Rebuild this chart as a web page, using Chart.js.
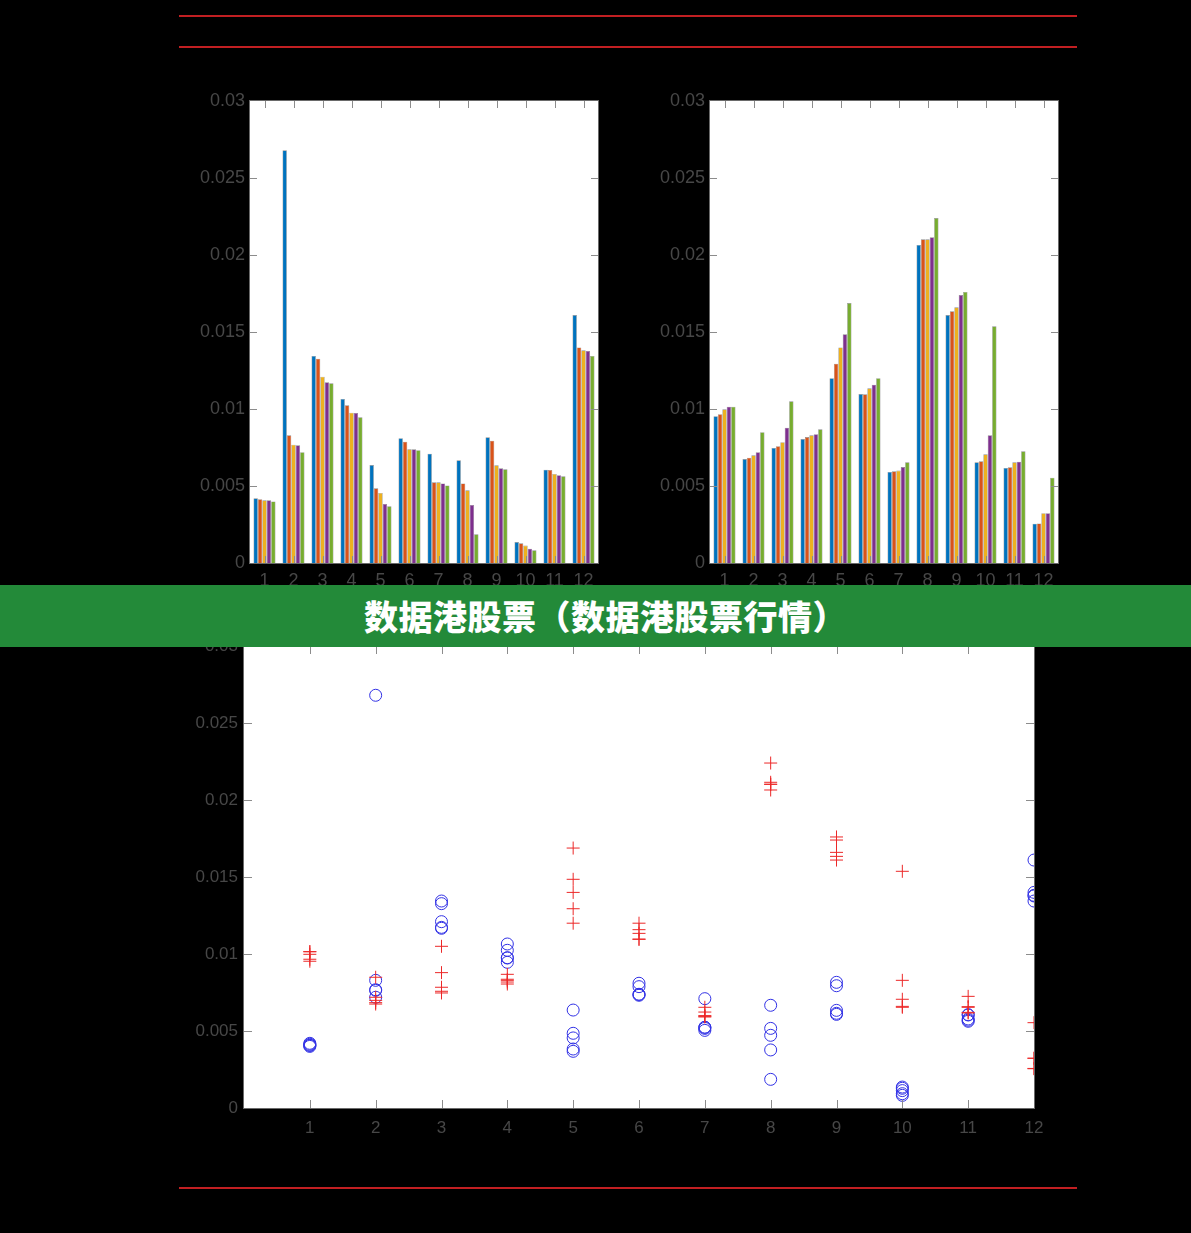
<!DOCTYPE html>
<html>
<head>
<meta charset="utf-8">
<script src="https://cdn.jsdelivr.net/npm/chart.js@4/dist/chart.umd.min.js"></script>
<style>
  html, body { margin:0; padding:0; background:#000; width:1191px; height:1233px; overflow:hidden; }
  canvas { position:absolute; left:0; top:0; }
  .rule { position:absolute; left:179px; width:898px; height:2px; background:#c21f22; }
  #banner { position:absolute; left:0; top:585px; width:1191px; height:62px; background:#238a39;
            color:#fff; font-family:"Noto Sans CJK SC", sans-serif; font-weight:900; font-size:34px;
            line-height:62px; text-align:center; padding-left:20px; box-sizing:border-box; letter-spacing:0.5px; }
</style>
</head>
<body>
<canvas id="c1" width="1191" height="1233"></canvas>
<canvas id="c2" width="1191" height="1233"></canvas>
<canvas id="c3" width="1191" height="1233"></canvas>
<div class="rule" style="top:15px"></div>
<div class="rule" style="top:46px"></div>
<div class="rule" style="top:1187px"></div>
<div id="banner">数据港股票（数据港股票行情）</div>
<script>
// ---- data ----
const categories = ['1','2','3','4','5','6','7','8','9','10','11','12'];
const yTickLabels = ['0','0.005','0.01','0.015','0.02','0.025','0.03'];
const scatterXTickLabels = ['','1','2','3','4','5','6','7','8','9','10','11','12'];

const leftS1 = [0.0042, 0.0268, 0.01344, 0.01065, 0.00636, 0.0081, 0.0071, 0.00667, 0.00816, 0.00136, 0.00606, 0.0161];
const leftS2 = [0.00414, 0.00829, 0.01327, 0.01024, 0.00485, 0.00788, 0.00524, 0.00517, 0.00794, 0.00128, 0.00604, 0.0140];
const leftS3 = [0.00407, 0.00768, 0.0121, 0.00976, 0.00455, 0.00738, 0.00524, 0.00472, 0.00634, 0.00113, 0.00578, 0.01381];
const leftS4 = [0.00407, 0.00764, 0.01173, 0.00974, 0.00383, 0.00738, 0.00517, 0.00377, 0.00615, 0.00093, 0.0057, 0.01377];
const leftS5 = [0.0040, 0.00719, 0.01167, 0.00946, 0.00368, 0.00732, 0.00504, 0.00186, 0.00608, 0.00082, 0.00563, 0.01344];

const rightS1 = [0.00953, 0.00675, 0.00747, 0.00805, 0.0120, 0.01097, 0.00591, 0.02065, 0.0161, 0.00654, 0.00617, 0.00255];
const rightS2 = [0.00966, 0.00684, 0.00758, 0.00818, 0.01294, 0.01095, 0.00595, 0.02102, 0.01634, 0.0066, 0.00621, 0.00257];
const rightS3 = [0.00998, 0.00699, 0.00784, 0.00829, 0.0140, 0.01134, 0.0060, 0.02102, 0.0166, 0.00706, 0.00654, 0.00323];
const rightS4 = [0.01015, 0.00719, 0.00879, 0.00836, 0.01485, 0.01158, 0.00623, 0.02115, 0.0174, 0.00829, 0.00658, 0.00323];
const rightS5 = [0.01015, 0.00849, 0.0105, 0.00868, 0.01688, 0.0120, 0.00654, 0.0224, 0.0176, 0.01537, 0.00725, 0.00554];

const seriesColors = ['#0072BD', '#D95319', '#EDB120', '#7E2F8E', '#77AC30'];

// ---- setup ----
Chart.defaults.font.family = '"Liberation Sans", Arial, sans-serif';
Chart.defaults.color = '#474747';
Chart.defaults.animation = false;

const W = 1191, H = 1233;

const framePlugin = {
  id: 'frame',
  beforeDraw(chart) {
    const { ctx, chartArea: a } = chart;
    ctx.save();
    ctx.fillStyle = '#ffffff';
    ctx.fillRect(a.left, a.top, a.right - a.left, a.bottom - a.top);
    ctx.restore();
  },
  afterDraw(chart, args, opts) {
    const { ctx, chartArea: a } = chart;
    const len = opts.tickLength || 7;
    const xs = chart.scales.x, ys = chart.scales.y;
    ctx.save();
    ctx.lineWidth = 1;
    ctx.strokeStyle = '#8c8c8c';
    ctx.beginPath();
    xs.ticks.forEach((t, i) => {
      const px = Math.round(xs.getPixelForTick(i)) + 0.5;
      if (px <= a.left + 1 || px >= a.right - 1) return;
      ctx.moveTo(px, a.bottom); ctx.lineTo(px, a.bottom - len);
      ctx.moveTo(px, a.top); ctx.lineTo(px, a.top + len);
    });
    ys.ticks.forEach((t, i) => {
      const py = Math.round(ys.getPixelForTick(i)) + 0.5;
      if (py <= a.top + 1 || py >= a.bottom - 1) return;
      ctx.moveTo(a.left, py); ctx.lineTo(a.left + len, py);
      ctx.moveTo(a.right, py); ctx.lineTo(a.right - len, py);
    });
    ctx.stroke();
    ctx.strokeStyle = opts.boxColor || '#6a6a6a';
    ctx.strokeRect(Math.round(a.left) - 0.5, Math.round(a.top) - 0.5,
                   Math.round(a.right - a.left) + 1, Math.round(a.bottom - a.top) + 1);
    ctx.restore();
  }
};

function barChart(id, series, area) {
  const yW = 60, xH = 30;
  return new Chart(document.getElementById(id), {
    type: 'bar',
    data: {
      labels: categories,
      datasets: series.map((s, i) => ({
        data: s,
        backgroundColor: seriesColors[i],
        borderColor: 'rgba(0,0,0,0.45)',
        borderWidth: 0.6,
        barPercentage: 1.0,
        categoryPercentage: 0.76
      }))
    },
    options: {
      responsive: false,
      devicePixelRatio: 1,
      events: [],
      layout: { padding: { left: area.left - yW, top: area.top, right: W - area.right, bottom: H - area.bottom - xH } },
      plugins: { legend: { display: false }, tooltip: { enabled: false }, frame: { tickLength: 7 } },
      scales: {
        x: {
          grid: { display: false, drawTicks: false },
          border: { display: false },
          ticks: { font: { size: 18 }, padding: 7, autoSkip: false, maxRotation: 0, color: '#474747' },
          afterFit(s) { s.height = xH; }
        },
        y: {
          min: 0, max: 0.03,
          grid: { display: false, drawTicks: false },
          border: { display: false },
          ticks: { stepSize: 0.005, font: { size: 18 }, padding: 5, color: '#474747',
                   callback: (v, i) => yTickLabels[i] },
          afterFit(s) { s.width = yW; }
        }
      }
    },
    plugins: [framePlugin]
  });
}

barChart('c1', [leftS1, leftS2, leftS3, leftS4, leftS5], { left: 250, right: 598, top: 101, bottom: 563 });
barChart('c2', [rightS1, rightS2, rightS3, rightS4, rightS5], { left: 710, right: 1058, top: 101, bottom: 563 });

// scatter
const leftSeries = [leftS1, leftS2, leftS3, leftS4, leftS5];
const rightSeries = [rightS1, rightS2, rightS3, rightS4, rightS5];
const circleData = [];
leftSeries.forEach(s => s.forEach((v, i) => circleData.push({ x: i + 1, y: v })));
const plusData = [];
rightSeries.forEach(s => s.forEach((v, i) => plusData.push({ x: i + 1, y: v })));

(function () {
  const area = { left: 244, right: 1034, top: 646, bottom: 1108 };
  const yW = 60, xH = 32;
  new Chart(document.getElementById('c3'), {
    type: 'scatter',
    data: {
      datasets: [
        { data: plusData, pointStyle: 'cross', pointRadius: 6.5, borderColor: 'rgb(236,40,40)', borderWidth: 1, backgroundColor: 'transparent', clip: 0 },
        { data: circleData, pointStyle: 'circle', pointRadius: 6, borderColor: 'rgb(50,50,230)', borderWidth: 1, backgroundColor: 'transparent', clip: 0 }
      ]
    },
    options: {
      responsive: false,
      devicePixelRatio: 1,
      events: [],
      layout: { padding: { left: area.left - yW, top: area.top, right: W - area.right, bottom: H - area.bottom - xH } },
      plugins: { legend: { display: false }, tooltip: { enabled: false }, frame: { tickLength: 8, boxColor: '#6a6a6a' } },
      scales: {
        x: {
          type: 'linear', min: 0, max: 12,
          grid: { display: false, drawTicks: false },
          border: { display: false },
          ticks: { stepSize: 1, font: { size: 17 }, padding: 10, autoSkip: false, maxRotation: 0, color: '#474747',
                   callback: (v, i) => scatterXTickLabels[i] },
          afterFit(s) { s.height = xH; }
        },
        y: {
          min: 0, max: 0.03,
          grid: { display: false, drawTicks: false },
          border: { display: false },
          ticks: { stepSize: 0.005, font: { size: 17 }, padding: 6, color: '#474747',
                   callback: (v, i) => yTickLabels[i] },
          afterFit(s) { s.width = yW; }
        }
      }
    },
    plugins: [framePlugin]
  });
})();
</script>
</body>
</html>
